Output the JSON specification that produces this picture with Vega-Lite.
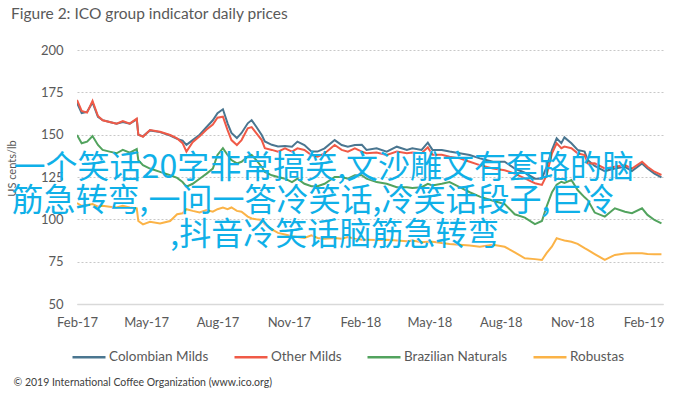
{
  "$schema": "https://vega.github.io/schema/vega-lite/v6.json",
  "width": 586,
  "height": 254,
  "autosize": {"type": "none"},
  "padding": {"left": 77, "top": 50, "right": 32, "bottom": 90},
  "background": "white",
  "config": {"view": {"stroke": null}, "font": "Lato"},
  "title": {"text": "Figure 2: ICO group indicator daily prices", "anchor": "start", "frame": "group", "dx": -66, "offset": 22, "fontSize": 15.5, "fontWeight": "normal", "color": "#595959", "font": "Lato"},
  "layer": [
    {
      "data": {
        "format": {"parse": {"d": "date:'%Y-%m-%d'"}},
        "values": [
          {"d": "2017-02-01", "Colombian Milds": 168.7, "Other Milds": 170.5, "Brazilian Naturals": 149.8, "Robustas": 109.6},
          {"d": "2017-02-07", "Colombian Milds": 162.8, "Other Milds": 164, "Brazilian Naturals": 144.9, "Robustas": 108},
          {"d": "2017-02-14", "Colombian Milds": 163.5, "Other Milds": 163, "Brazilian Naturals": 145.9, "Robustas": 108.5},
          {"d": "2017-02-21", "Colombian Milds": 169, "Other Milds": 170, "Brazilian Naturals": 149.2, "Robustas": 109},
          {"d": "2017-02-28", "Colombian Milds": 160.5, "Other Milds": 161, "Brazilian Naturals": 143.9, "Robustas": 107.5},
          {"d": "2017-03-06", "Colombian Milds": 158.6, "Other Milds": 158.5, "Brazilian Naturals": 141, "Robustas": 108},
          {"d": "2017-03-15", "Colombian Milds": 157.5, "Other Milds": 157.5, "Brazilian Naturals": 140, "Robustas": 107.5},
          {"d": "2017-03-24", "Colombian Milds": 156.5, "Other Milds": 156.5, "Brazilian Naturals": 139, "Robustas": 107},
          {"d": "2017-04-01", "Colombian Milds": 157.5, "Other Milds": 158, "Brazilian Naturals": 141, "Robustas": 108},
          {"d": "2017-04-10", "Colombian Milds": 156.5, "Other Milds": 156.5, "Brazilian Naturals": 139.4, "Robustas": 107},
          {"d": "2017-04-19", "Colombian Milds": 159, "Other Milds": 159.5, "Brazilian Naturals": 141.5, "Robustas": 106.5},
          {"d": "2017-04-21", "Colombian Milds": 150, "Other Milds": 150, "Brazilian Naturals": 135, "Robustas": 99},
          {"d": "2017-04-27", "Colombian Milds": 149, "Other Milds": 148.8, "Brazilian Naturals": 132, "Robustas": 97},
          {"d": "2017-05-06", "Colombian Milds": 152.5, "Other Milds": 152.7, "Brazilian Naturals": 130, "Robustas": 98.5},
          {"d": "2017-05-19", "Colombian Milds": 151.5, "Other Milds": 151.7, "Brazilian Naturals": 128, "Robustas": 97.5},
          {"d": "2017-06-01", "Colombian Milds": 149.5, "Other Milds": 149.8, "Brazilian Naturals": 126, "Robustas": 99},
          {"d": "2017-06-10", "Colombian Milds": 147.5, "Other Milds": 147.8, "Brazilian Naturals": 124.5, "Robustas": 103},
          {"d": "2017-06-17", "Colombian Milds": 146.5, "Other Milds": 145, "Brazilian Naturals": 122, "Robustas": 103.6},
          {"d": "2017-06-22", "Colombian Milds": 144, "Other Milds": 140, "Brazilian Naturals": 119.3, "Robustas": 106},
          {"d": "2017-06-30", "Colombian Milds": 146.8, "Other Milds": 145.5, "Brazilian Naturals": 121, "Robustas": 105},
          {"d": "2017-07-09", "Colombian Milds": 150, "Other Milds": 149, "Brazilian Naturals": 124, "Robustas": 104},
          {"d": "2017-07-18", "Colombian Milds": 154.5, "Other Milds": 153, "Brazilian Naturals": 127, "Robustas": 105.5},
          {"d": "2017-07-26", "Colombian Milds": 158.5, "Other Milds": 156, "Brazilian Naturals": 130, "Robustas": 104.5},
          {"d": "2017-08-01", "Colombian Milds": 162.7, "Other Milds": 160, "Brazilian Naturals": 138, "Robustas": 106},
          {"d": "2017-08-08", "Colombian Milds": 165, "Other Milds": 160.6, "Brazilian Naturals": 142, "Robustas": 107},
          {"d": "2017-08-14", "Colombian Milds": 156.7, "Other Milds": 152.7, "Brazilian Naturals": 138, "Robustas": 106},
          {"d": "2017-08-19", "Colombian Milds": 151, "Other Milds": 146.8, "Brazilian Naturals": 135, "Robustas": 107},
          {"d": "2017-08-26", "Colombian Milds": 148, "Other Milds": 143.9, "Brazilian Naturals": 133, "Robustas": 105},
          {"d": "2017-09-01", "Colombian Milds": 151, "Other Milds": 146.8, "Brazilian Naturals": 134, "Robustas": 104.5},
          {"d": "2017-09-09", "Colombian Milds": 156.7, "Other Milds": 153.8, "Brazilian Naturals": 137, "Robustas": 101.6},
          {"d": "2017-09-14", "Colombian Milds": 158.6, "Other Milds": 154.5, "Brazilian Naturals": 138, "Robustas": 100.5},
          {"d": "2017-09-20", "Colombian Milds": 154.7, "Other Milds": 150.9, "Brazilian Naturals": 135, "Robustas": 100},
          {"d": "2017-09-27", "Colombian Milds": 149.8, "Other Milds": 146.8, "Brazilian Naturals": 131, "Robustas": 99.6},
          {"d": "2017-10-01", "Colombian Milds": 146, "Other Milds": 142, "Brazilian Naturals": 128, "Robustas": 97},
          {"d": "2017-10-10", "Colombian Milds": 144, "Other Milds": 141, "Brazilian Naturals": 126, "Robustas": 94},
          {"d": "2017-10-18", "Colombian Milds": 143, "Other Milds": 140, "Brazilian Naturals": 125, "Robustas": 92},
          {"d": "2017-10-27", "Colombian Milds": 143.3, "Other Milds": 141.9, "Brazilian Naturals": 124, "Robustas": 91},
          {"d": "2017-11-05", "Colombian Milds": 142.9, "Other Milds": 140, "Brazilian Naturals": 122, "Robustas": 90},
          {"d": "2017-11-12", "Colombian Milds": 145.9, "Other Milds": 141.9, "Brazilian Naturals": 124, "Robustas": 89.5},
          {"d": "2017-11-21", "Colombian Milds": 143.9, "Other Milds": 141, "Brazilian Naturals": 121, "Robustas": 89},
          {"d": "2017-11-30", "Colombian Milds": 140, "Other Milds": 138, "Brazilian Naturals": 119.5, "Robustas": 90.5},
          {"d": "2017-12-08", "Colombian Milds": 140, "Other Milds": 137, "Brazilian Naturals": 119.5, "Robustas": 89},
          {"d": "2017-12-17", "Colombian Milds": 141.9, "Other Milds": 138.9, "Brazilian Naturals": 121, "Robustas": 88.6},
          {"d": "2017-12-30", "Colombian Milds": 146.8, "Other Milds": 143.9, "Brazilian Naturals": 125, "Robustas": 89},
          {"d": "2018-01-08", "Colombian Milds": 143.9, "Other Milds": 141, "Brazilian Naturals": 125, "Robustas": 88.6},
          {"d": "2018-01-16", "Colombian Milds": 142.9, "Other Milds": 140, "Brazilian Naturals": 124, "Robustas": 89.5},
          {"d": "2018-01-25", "Colombian Milds": 143.9, "Other Milds": 141.9, "Brazilian Naturals": 126, "Robustas": 88.6},
          {"d": "2018-02-03", "Colombian Milds": 144, "Other Milds": 140, "Brazilian Naturals": 126, "Robustas": 88},
          {"d": "2018-02-09", "Colombian Milds": 141, "Other Milds": 139, "Brazilian Naturals": 124, "Robustas": 88},
          {"d": "2018-02-22", "Colombian Milds": 141.9, "Other Milds": 139.5, "Brazilian Naturals": 122, "Robustas": 87.8},
          {"d": "2018-03-07", "Colombian Milds": 140, "Other Milds": 138, "Brazilian Naturals": 121, "Robustas": 88},
          {"d": "2018-03-20", "Colombian Milds": 142.9, "Other Milds": 140, "Brazilian Naturals": 119, "Robustas": 87.5},
          {"d": "2018-04-02", "Colombian Milds": 141, "Other Milds": 139, "Brazilian Naturals": 119, "Robustas": 87},
          {"d": "2018-04-09", "Colombian Milds": 141.9, "Other Milds": 139.5, "Brazilian Naturals": 118.5, "Robustas": 87.5},
          {"d": "2018-04-21", "Colombian Milds": 141, "Other Milds": 139, "Brazilian Naturals": 119, "Robustas": 86.5},
          {"d": "2018-04-29", "Colombian Milds": 145.3, "Other Milds": 142.5, "Brazilian Naturals": 121, "Robustas": 86.8},
          {"d": "2018-05-05", "Colombian Milds": 141, "Other Milds": 138.1, "Brazilian Naturals": 120, "Robustas": 86.8},
          {"d": "2018-05-17", "Colombian Milds": 141, "Other Milds": 138.1, "Brazilian Naturals": 121, "Robustas": 86},
          {"d": "2018-05-27", "Colombian Milds": 140, "Other Milds": 137, "Brazilian Naturals": 122, "Robustas": 85.5},
          {"d": "2018-06-09", "Colombian Milds": 139, "Other Milds": 136, "Brazilian Naturals": 119, "Robustas": 85},
          {"d": "2018-06-22", "Colombian Milds": 138, "Other Milds": 134, "Brazilian Naturals": 116, "Robustas": 84.5},
          {"d": "2018-07-05", "Colombian Milds": 136, "Other Milds": 132, "Brazilian Naturals": 113.4, "Robustas": 83.8},
          {"d": "2018-07-22", "Colombian Milds": 134, "Other Milds": 130, "Brazilian Naturals": 111, "Robustas": 85},
          {"d": "2018-08-06", "Colombian Milds": 134, "Other Milds": 129, "Brazilian Naturals": 109, "Robustas": 83.8},
          {"d": "2018-08-19", "Colombian Milds": 130, "Other Milds": 127, "Brazilian Naturals": 103, "Robustas": 80.5},
          {"d": "2018-09-01", "Colombian Milds": 127.5, "Other Milds": 124.2, "Brazilian Naturals": 101, "Robustas": 77},
          {"d": "2018-09-14", "Colombian Milds": 124, "Other Milds": 121.3, "Brazilian Naturals": 97.2, "Robustas": 76.5},
          {"d": "2018-09-23", "Colombian Milds": 124, "Other Milds": 120.3, "Brazilian Naturals": 99, "Robustas": 76},
          {"d": "2018-09-29", "Colombian Milds": 131, "Other Milds": 126, "Brazilian Naturals": 107.5, "Robustas": 80},
          {"d": "2018-10-06", "Colombian Milds": 141, "Other Milds": 139, "Brazilian Naturals": 116, "Robustas": 84},
          {"d": "2018-10-12", "Colombian Milds": 147.8, "Other Milds": 144.9, "Brazilian Naturals": 120.5, "Robustas": 88.8},
          {"d": "2018-10-18", "Colombian Milds": 145, "Other Milds": 142, "Brazilian Naturals": 122.2, "Robustas": 88},
          {"d": "2018-10-22", "Colombian Milds": 148.4, "Other Milds": 143, "Brazilian Naturals": 121.5, "Robustas": 87.5},
          {"d": "2018-10-31", "Colombian Milds": 144.9, "Other Milds": 142, "Brazilian Naturals": 123.2, "Robustas": 86.8},
          {"d": "2018-11-08", "Colombian Milds": 141, "Other Milds": 139, "Brazilian Naturals": 117.3, "Robustas": 85.5},
          {"d": "2018-11-17", "Colombian Milds": 140, "Other Milds": 138, "Brazilian Naturals": 113, "Robustas": 83},
          {"d": "2018-11-21", "Colombian Milds": 135, "Other Milds": 133, "Brazilian Naturals": 111.4, "Robustas": 82},
          {"d": "2018-11-30", "Colombian Milds": 131.5, "Other Milds": 133.1, "Brazilian Naturals": 104, "Robustas": 79.5},
          {"d": "2018-12-13", "Colombian Milds": 128.5, "Other Milds": 130.1, "Brazilian Naturals": 101.6, "Robustas": 76},
          {"d": "2018-12-26", "Colombian Milds": 130, "Other Milds": 131, "Brazilian Naturals": 106.5, "Robustas": 79},
          {"d": "2019-01-08", "Colombian Milds": 131, "Other Milds": 132, "Brazilian Naturals": 104.5, "Robustas": 79.8},
          {"d": "2019-01-17", "Colombian Milds": 128.5, "Other Milds": 130, "Brazilian Naturals": 103.6, "Robustas": 80},
          {"d": "2019-01-30", "Colombian Milds": 133, "Other Milds": 134, "Brazilian Naturals": 106.5, "Robustas": 79.9},
          {"d": "2019-02-06", "Colombian Milds": 130, "Other Milds": 131, "Brazilian Naturals": 102.6, "Robustas": 79.5},
          {"d": "2019-02-15", "Colombian Milds": 127, "Other Milds": 128.1, "Brazilian Naturals": 99.6, "Robustas": 79.4},
          {"d": "2019-02-24", "Colombian Milds": 124.8, "Other Milds": 126.2, "Brazilian Naturals": 97.6, "Robustas": 79.4}
        ]
      },
      "transform": [{"fold": ["Colombian Milds", "Other Milds", "Brazilian Naturals", "Robustas"], "as": ["series", "price"]}],
      "mark": {"type": "line", "strokeWidth": 2, "clip": true},
      "encoding": {
        "x": {
          "field": "d", "type": "temporal",
          "scale": {"domain": [{"year": 2017, "month": 2, "date": 1}, {"year": 2019, "month": 2, "date": 26}]},
          "axis": {
            "values": [
              {"year": 2017, "month": 2, "date": 1}, {"year": 2017, "month": 5, "date": 1}, {"year": 2017, "month": 8, "date": 1},
              {"year": 2017, "month": 11, "date": 1}, {"year": 2018, "month": 2, "date": 1}, {"year": 2018, "month": 5, "date": 1},
              {"year": 2018, "month": 8, "date": 1}, {"year": 2018, "month": 11, "date": 1}, {"year": 2019, "month": 2, "date": 1}
            ],
            "format": "%b-%y",
            "labelFont": "Lato", "labelFontSize": 13, "labelColor": "#595959",
            "labelFlush": false, "labelOverlap": false,
            "ticks": false, "labelPadding": 12,
            "domainColor": "#d9d9d9", "domainWidth": 1.5, "grid": false,
            "title": "© 2019 International Coffee Organization (www.ico.org)",
            "titleX": -64, "titleY": 78, "titleAlign": "left", "titleAnchor": null,
            "titleBaseline": "middle", "titleFont": "Lato", "titleFontSize": 10.5,
            "titleFontWeight": "normal", "titleColor": "#404040"
          }
        },
        "y": {
          "field": "price", "type": "quantitative",
          "scale": {"domain": [50, 200], "nice": false},
          "axis": {
            "values": [50, 75, 100, 125, 150, 175, 200],
            "grid": true, "gridDash": [2, 2], "gridColor": "#c8c8c8", "gridWidth": 1,
            "domain": false, "ticks": false, "labelPadding": 14,
            "labelFont": "Lato", "labelFontSize": 13, "labelColor": "#595959",
            "title": "US cents/lb", "titleFont": "Lato", "titleFontSize": 11,
            "titleFontWeight": "normal", "titleColor": "#595959",
            "titleX": -60, "titleY": 118, "titleAnchor": null
          }
        },
        "color": {
          "field": "series", "type": "nominal",
          "scale": {
            "domain": ["Colombian Milds", "Other Milds", "Brazilian Naturals", "Robustas"],
            "range": ["#4a7690", "#f05a47", "#52a35e", "#fbb347"]
          },
          "legend": {
            "orient": "none", "legendX": -6, "legendY": 289, "direction": "horizontal",
            "title": null, "symbolType": "stroke", "symbolSize": 1089, "symbolStrokeWidth": 2.5,
            "labelFont": "Lato", "labelFontSize": 13.5, "labelColor": "#595959",
            "labelOffset": 2, "columnPadding": 20
          }
        }
      }
    },
    {
      "data": {"values": [{}]},
      "mark": {"type": "text", "text": "一个笑话20字非常搞笑,文沙雕文有套路的脑", "font": "Noto Sans CJK SC", "fontSize": 32, "color": "#0fb0e8", "align": "center", "baseline": "middle"},
      "encoding": {
        "x": {"datum": {"year": 2017, "month": 12, "date": 16}, "type": "temporal"},
        "y": {"datum": 130.6, "type": "quantitative"}
      }
    },
    {
      "data": {"values": [{}]},
      "mark": {"type": "text", "text": "筋急转弯,一问一答冷笑话,冷笑话段子,巨冷", "font": "Noto Sans CJK SC", "fontSize": 32, "color": "#0fb0e8", "align": "center", "baseline": "middle"},
      "encoding": {
        "x": {"datum": {"year": 2017, "month": 12, "date": 2}, "type": "temporal"},
        "y": {"datum": 111.1, "type": "quantitative"}
      }
    },
    {
      "data": {"values": [{}]},
      "mark": {"type": "text", "text": ",抖音冷笑话脑筋急转弯", "font": "Noto Sans CJK SC", "fontSize": 32, "color": "#0fb0e8", "align": "center", "baseline": "middle"},
      "encoding": {
        "x": {"datum": {"year": 2017, "month": 12, "date": 30}, "type": "temporal"},
        "y": {"datum": 90.7, "type": "quantitative"}
      }
    }
  ]
}
